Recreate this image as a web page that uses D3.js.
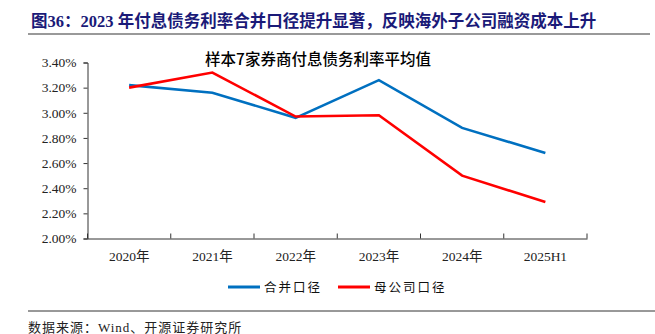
<!DOCTYPE html>
<html><head><meta charset="utf-8">
<script src="https://cdn.jsdelivr.net/npm/d3@7"></script>
<style>body{margin:0;background:#fff;}svg{display:block;}</style>
</head><body>
<svg id="c" width="655" height="334"></svg>
<script>
const categories = ["2020年","2021年","2022年","2023年","2024年","2025H1"];
const consolidated = [3.22,3.16,2.96,3.26,2.88,2.68];
const parentCo = [3.20,3.32,2.97,2.98,2.50,2.29];
const yTicks = [2.0,2.2,2.4,2.6,2.8,3.0,3.2,3.4];
const seriesNames = ["合并口径","母公司口径"];
const colors = ["#0070C0","#FF0000"];

const svg = d3.select("#c");
const serif = "'Liberation Serif','Noto Sans CJK SC',serif";
const cjk = "'Noto Sans CJK SC',sans-serif";

// header
svg.append("text").attr("x",31).attr("y",27)
  .attr("font-family",serif).attr("font-weight","bold").attr("font-size",16.5)
  .attr("fill","#1A1A78").text("图36：2023 年付息债务利率合并口径提升显著，反映海外子公司融资成本上升");
svg.append("line").attr("x1",28).attr("x2",650).attr("y1",34).attr("y2",34)
  .attr("stroke","#999").attr("stroke-width",2);

const x = d3.scaleBand().domain(categories).range([87.5,587]);
const y = d3.scaleLinear().domain([2.0,3.4]).range([238.5,62.5]);

// chart title
svg.append("text").attr("x",318).attr("y",65).attr("text-anchor","middle")
  .attr("font-family",cjk).attr("font-weight",500).attr("font-size",15.5).attr("fill","#000").text("样本7家券商付息债务利率平均值");

// y axis
const ya = svg.append("g").attr("transform","translate(87.5,0)")
  .call(d3.axisLeft(y).tickValues(yTicks).tickSize(4).tickFormat(d=>d.toFixed(2)+"%"));
ya.select(".domain").attr("stroke","#333");
ya.selectAll(".tick line").attr("stroke","#333");
ya.selectAll(".tick text").attr("font-family",serif).attr("font-size",13.5).attr("fill","#222").attr("x",-11);

// x axis
const xa = svg.append("g").attr("transform","translate(0,238.5)")
  .call(d3.axisBottom(x).tickSize(0).tickSizeOuter(0));
xa.select(".domain").attr("stroke","#333");
xa.selectAll(".tick text").attr("font-family",serif).attr("font-size",13.5).attr("fill","#222").attr("dy","1.2em").attr("y",6);
// boundary ticks (inward)
const bounds = categories.map(c=>x(c)).concat([x.range()[1]]);
svg.append("g").selectAll("line").data(bounds).join("line")
  .attr("x1",d=>d).attr("x2",d=>d).attr("y1",238.5).attr("y2",233.5)
  .attr("stroke","#333");

// lines
const line = d3.line().x((d,i)=>x(categories[i])+x.bandwidth()/2).y(d=>y(d));
[consolidated,parentCo].forEach((s,i)=>{
  svg.append("path").datum(s).attr("d",line).attr("fill","none")
    .attr("stroke",colors[i]).attr("stroke-width",2.6).attr("stroke-linejoin","miter");
});

// legend
const lg = [{x1:228,x2:260,tx:264},{x1:338,x2:370,tx:374}];
lg.forEach((l,i)=>{
  svg.append("line").attr("x1",l.x1).attr("x2",l.x2).attr("y1",287).attr("y2",287)
    .attr("stroke",colors[i]).attr("stroke-width",3);
  svg.append("text").attr("x",l.tx).attr("y",292).attr("font-family",cjk).attr("font-size",12.5)
    .attr("letter-spacing",2).attr("fill","#111").text(seriesNames[i]);
});

// footer
svg.append("line").attr("x1",28).attr("x2",655).attr("y1",311).attr("y2",311).attr("stroke","#333").attr("stroke-width",1);
svg.append("text").attr("x",28).attr("y",332).attr("font-family",serif).attr("font-size",13)
  .attr("fill","#222").attr("letter-spacing",1).text("数据来源：Wind、开源证券研究所");
</script>
</body></html>
